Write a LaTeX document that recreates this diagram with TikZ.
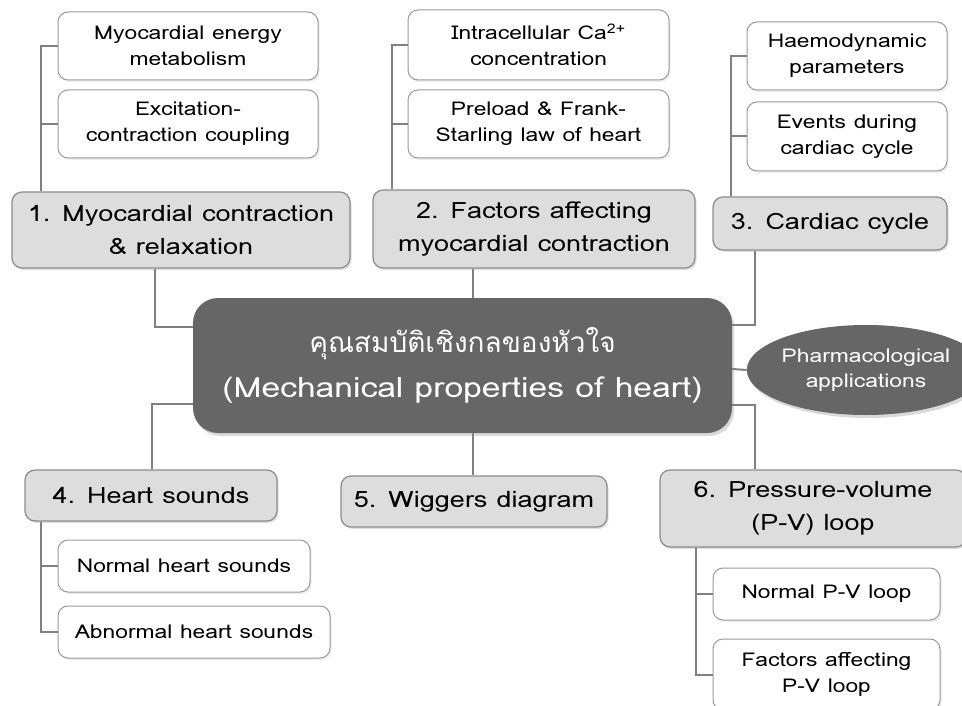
\documentclass[tikz,border=0pt]{standalone}
\usepackage{fontspec}
\setmainfont{Loma}[FakeStretch=1.2]
\newfontfamily\thaifont[Script=Thai]{Loma}
\usetikzlibrary{shapes.geometric,shadows}
\definecolor{conncol}{HTML}{808080}
\definecolor{mainfill}{HTML}{DDDDDD}
\definecolor{mainedge}{HTML}{8C8C8C}
\definecolor{subedge}{HTML}{9A9A9A}
\definecolor{centfill}{HTML}{666666}
\tikzset{
  conn/.style={draw=conncol, line width=2pt},
  mainbox/.style={draw=mainedge, line width=1.2pt, fill=mainfill, rounded corners=10pt,
    inner sep=0pt, align=center, font=\fontsize{22.5}{33}\selectfont,
    drop shadow={opacity=0.25, shadow xshift=1.5pt, shadow yshift=-2pt}},
  subbox/.style={draw=subedge, line width=1pt, fill=white, rounded corners=10pt,
    inner sep=0pt, align=center, font=\fontsize{19}{26}\selectfont,
    drop shadow={opacity=0.15, shadow xshift=1.5pt, shadow yshift=-2pt}},
  centbox/.style={fill=centfill, rounded corners=25pt, inner sep=0pt, align=center,
    text=white, font=\fontsize{28}{45}\selectfont,
    drop shadow={opacity=0.3, shadow xshift=2pt, shadow yshift=-3pt}},
  ellbox/.style={ellipse, fill=centfill, inner sep=0pt, align=center,
    text=white, font=\fontsize{19}{25}\selectfont,
    drop shadow={opacity=0.3, shadow xshift=2pt, shadow yshift=-3pt}}
}
\begin{document}
\begin{tikzpicture}[x=1pt,y=-1pt]
\useasboundingbox (0,0) rectangle (962,706);
% central
\node[centbox, minimum width=539, minimum height=135] (c) at (462.5,365.5)
  {{\thaifont คุณสมบัติเชิงกลของหัวใจ}\\(Mechanical properties of heart)};
\node[ellbox, minimum width=206, minimum height=90] (ell) at (866,370)
  {Pharmacological\\applications};
% main topics
\node[mainbox, minimum width=338, minimum height=76] (m1) at (181,230)
  {1. Myocardial contraction\\\& relaxation};
\node[mainbox, minimum width=322, minimum height=78] (m2) at (534,229)
  {2. Factors affecting\\myocardial contraction};
\node[mainbox, minimum width=234, minimum height=53] (m3) at (830,223.5)
  {3. Cardiac cycle};
\node[mainbox, minimum width=252, minimum height=51] (m4) at (151,495.5)
  {4. Heart sounds};
\node[mainbox, minimum width=266, minimum height=51] (m5) at (474,501.5)
  {5. Wiggers diagram};
\node[mainbox, minimum width=306, minimum height=77] (m6) at (813,508.5)
  {6. Pressure-volume\\(P-V) loop};
% sub topics
\node[subbox, minimum width=260, minimum height=68] (s1a) at (188,46)
  {Myocardial energy\\metabolism};
\node[subbox, minimum width=260, minimum height=68] (s1b) at (188,124)
  {Excitation-\\contraction coupling};
\node[subbox, minimum width=261, minimum height=70] (s2a) at (538.5,45)
  {Intracellular Ca\textsuperscript{2+}\\concentration};
\node[subbox, minimum width=261, minimum height=68] (s2b) at (538.5,124)
  {Preload \& Frank-\\Starling law of heart};
\node[subbox, minimum width=200, minimum height=68] (s3a) at (847,56)
  {Haemodynamic\\parameters};
\node[subbox, minimum width=200, minimum height=69] (s3b) at (847,136.5)
  {Events during\\cardiac cycle};
\node[subbox, minimum width=252, minimum height=52] (s4a) at (184,566)
  {Normal heart sounds};
\node[subbox, minimum width=272, minimum height=52] (s4b) at (194,632)
  {Abnormal heart sounds};
\node[subbox, minimum width=227, minimum height=52] (s6a) at (826.5,594)
  {Normal P-V loop};
\node[subbox, minimum width=227, minimum height=71] (s6b) at (826.5,674.5)
  {Factors affecting\\P-V loop};
% helper coordinates for connector tracks
\coordinate (v1) at (41,0);
\coordinate (v2) at (392,0);
\coordinate (v3) at (731,0);
\coordinate (v4) at (41,0);
\coordinate (v6) at (696,0);
\coordinate (xa) at (155,0);
\coordinate (xb) at (473,0);
\coordinate (xc) at (755,0);
\coordinate (xd) at (152,0);
\coordinate (ya) at (0,327);
\coordinate (yb) at (0,325);
\coordinate (yc) at (0,369);
\coordinate (yd) at (0,404);
\coordinate (ye) at (0,405);
% connectors
\draw[conn] (s1a.west) -| (v1 |- m1.north);
\draw[conn] (s1b.west) -| (v1 |- m1.north);
\draw[conn] (s2a.west) -| (v2 |- m2.north);
\draw[conn] (s2b.west) -| (v2 |- m2.north);
\draw[conn] (s3a.west) -| (v3 |- m3.north);
\draw[conn] (s3b.west) -| (v3 |- m3.north);
\draw[conn] (s4a.west) -| (v4 |- m4.south);
\draw[conn] (s4b.west) -| (v4 |- m4.south);
\draw[conn] (s6a.west) -| (v6 |- m6.south);
\draw[conn] (s6b.west) -| (v6 |- m6.south);
\draw[conn] (xa |- m1.south) |- (c.west |- ya);
\draw[conn] (xb |- m2.south) -- (xb |- c.north);
\draw[conn] (xc |- m3.south) |- (c.east |- yb);
\draw[conn] (c.east |- yc) -- (ell.west);
\draw[conn] (c.west |- yd) -| (xd |- m4.north);
\draw[conn] (xb |- c.south) -- (xb |- m5.north);
\draw[conn] (c.east |- ye) -| (xc |- m6.north);
\end{tikzpicture}
\end{document}
